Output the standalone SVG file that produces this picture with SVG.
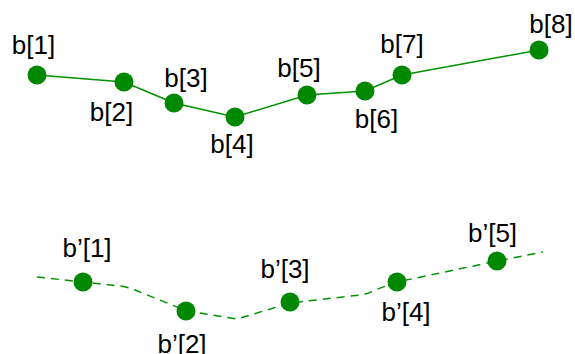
<svg xmlns="http://www.w3.org/2000/svg" width="575" height="354" viewBox="0 0 575 354">
<style>
.n{fill:#008800}
.t{font-family:"Liberation Sans",Arial,sans-serif;font-size:26px;fill:#000;text-anchor:middle}
.l{fill:none;stroke:#009000;stroke-width:1.5}
.d{stroke-dasharray:8 6}
</style>
<rect width="575" height="354" fill="#fff"/>
<g id="connectors">
<polyline class="l" points="37,75 124,82 174,103 235,117 307,95 365,91 402,75 539,50"/>
<path class="l d" d="M37,277 L83,282 L120,286 Q128,287 135,290 L187,311 L237,319 L290,303 L360,295 Q368,294 375,290 L397,282 L497,261 L543,252"/>
</g>
<g id="b1"><circle class="n" cx="37" cy="75" r="9.5"/><text class="t" x="33.5" y="54">b[1]</text></g>
<g id="b2"><circle class="n" cx="124" cy="82" r="9.5"/><text class="t" x="111.5" y="121">b[2]</text></g>
<g id="b3"><circle class="n" cx="174" cy="103" r="9.5"/><text class="t" x="186" y="87">b[3]</text></g>
<g id="b4"><circle class="n" cx="235" cy="117" r="9.5"/><text class="t" x="232" y="153">b[4]</text></g>
<g id="b5"><circle class="n" cx="307" cy="95" r="9.5"/><text class="t" x="299" y="77">b[5]</text></g>
<g id="b6"><circle class="n" cx="365" cy="91" r="9.5"/><text class="t" x="376.5" y="128">b[6]</text></g>
<g id="b7"><circle class="n" cx="402" cy="75" r="9.5"/><text class="t" x="402" y="53">b[7]</text></g>
<g id="b8"><circle class="n" cx="539" cy="50" r="9.5"/><text class="t" x="551" y="33">b[8]</text></g>
<g id="bp1"><circle class="n" cx="83" cy="282" r="9.5"/><text class="t" x="87" y="257">b’[1]</text></g>
<g id="bp2"><circle class="n" cx="186" cy="311" r="9.5"/><text class="t" x="182" y="353">b’[2]</text></g>
<g id="bp3"><circle class="n" cx="290" cy="302" r="9.5"/><text class="t" x="285" y="278">b’[3]</text></g>
<g id="bp4"><circle class="n" cx="397" cy="282" r="9.5"/><text class="t" x="406" y="321">b’[4]</text></g>
<g id="bp5"><circle class="n" cx="497" cy="261" r="9.5"/><text class="t" x="492.5" y="242">b’[5]</text></g>
</svg>
